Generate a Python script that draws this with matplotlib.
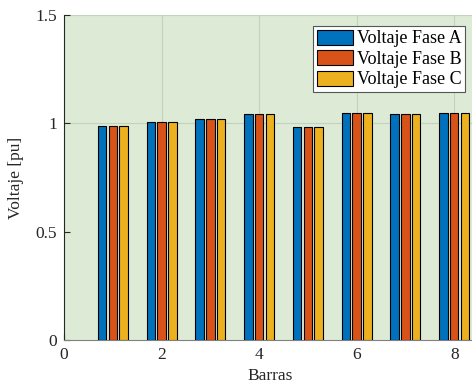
import matplotlib.pyplot as plt
import numpy as np

plt.rcParams['font.family'] = ['Liberation Serif', 'DejaVu Serif']

barras = np.array([1, 2, 3, 4, 5, 6, 7, 8])
fase_a = [0.986, 1.005, 1.020, 1.043, 0.983, 1.048, 1.044, 1.048]
fase_b = [0.986, 1.005, 1.020, 1.043, 0.983, 1.048, 1.044, 1.048]
fase_c = [0.986, 1.005, 1.020, 1.043, 0.983, 1.048, 1.044, 1.048]
nombres = ['Voltaje Fase A', 'Voltaje Fase B', 'Voltaje Fase C']
colores = ['#0072BD', '#D95319', '#EDB120']

fig = plt.figure(figsize=(4.72, 3.85), dpi=100)
# the original is cut on the right, so the axes run past the figure edge
ax = fig.add_axes([0.1356, 0.117, 0.93, 0.844])
ax.set_facecolor('#DDEBD6')

ancho = 0.175
paso = 0.22
for i, serie in enumerate([fase_a, fase_b, fase_c]):
    ax.bar(barras + (i - 1) * paso, serie, width=ancho, color=colores[i],
           edgecolor='black', linewidth=0.8, label=nombres[i], zorder=3)

ax.set_xlim(0, 9)
ax.set_ylim(0, 1.5)
ax.set_xticks([0, 2, 4, 6, 8])
ax.set_yticks([0, 0.5, 1, 1.5])
ax.set_yticklabels(['0', '0.5', '1', '1.5'])
ax.grid(True, axis='x', color='#C2D3BC', linewidth=0.8, zorder=0)
for yv in [1, 1.5]:
    ax.axhline(yv, color='#C2D3BC', linewidth=0.8, zorder=0)
ax.tick_params(direction='in', labelsize=12.5, colors='#262626', length=4, pad=5)
for s in ['top', 'right']:
    ax.spines[s].set_visible(False)
ax.spines['left'].set_color('#262626')
ax.spines['bottom'].set_color('#808080')

ax.set_xlabel('Barras', fontsize=12.5, color='#262626')
ax.xaxis.set_label_coords(4.23 / 9, -0.085)
ax.set_ylabel('Voltaje [pu]', fontsize=12.5, color='#262626', labelpad=8)

leg = ax.legend(loc='upper left', bbox_to_anchor=(0.567, 0.966), fontsize=13,
                fancybox=False, framealpha=1, edgecolor='#555555',
                handlelength=2.0, handleheight=0.9, handletextpad=0.25,
                labelspacing=0.15, borderpad=0.2, borderaxespad=0)
leg.get_frame().set_linewidth(0.8)

fig.savefig('out.png', dpi=100)
